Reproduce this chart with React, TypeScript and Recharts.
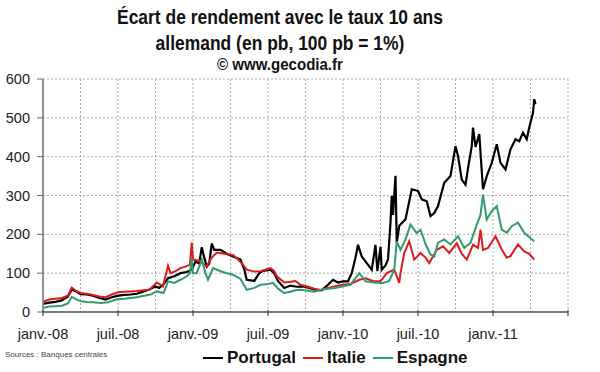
import React from "react";
import { LineChart, Line, XAxis, YAxis, CartesianGrid } from "recharts";

// x = months since January 2008
const portugalMonths = [0,0.5,1,1.5,2,2.3,2.7,3,3.5,4,4.5,5,5.5,6,6.5,7,7.5,8,8.5,9,9.3,9.6,10,10.5,11,11.5,11.9,12.2,12.5,12.7,12.9,13.1,13.3,13.5,13.7,14.2,14.7,15.2,15.8,16.1,16.3,16.9,17.3,17.6,18.2,18.5,18.8,19.3,19.8,20.3,20.8,21.3,21.8,22.3,22.8,23.2,23.6,24,24.4,24.7,25,25.2,25.5,25.9,26.3,26.6,26.75,27,27.1,27.4,27.6,27.8,27.9,28,28.2,28.3,28.5,29,29.5,30,30.3,30.7,31,31.3,31.6,32.1,32.6,33,33.2,33.5,33.8,34,34.3,34.4,34.6,34.9,35.2,35.5,35.9,36.3,36.6,37,37.4,37.8,38.1,38.4,38.7,38.9,39.2,39.3,39.4];
const portugalValues = [21,24,26,30,40,58,52,46,45,42,36,32,38,42,44,45,47,52,58,66,62,70,87,92,100,103,109,130,125,167,140,117,125,177,160,160,150,143,135,110,83,80,100,106,109,100,80,62,68,65,66,62,57,56,70,83,76,79,79,100,140,173,143,126,109,173,105,168,109,120,135,230,299,250,351,178,222,239,316,312,290,285,247,255,273,333,350,427,402,341,328,370,427,475,425,458,316,350,384,432,384,367,419,445,440,462,445,475,513,548,535];

const italieMonths = [0,0.5,1,1.5,2,2.3,2.6,3,3.5,4,4.5,5,5.5,6,6.5,7,7.5,8,8.5,9.1,9.6,10,10.2,10.6,11,11.5,11.75,11.9,12,12.5,13.1,13.5,13.9,14.5,15.2,15.6,16,16.3,16.9,17.4,18.2,18.5,18.7,19.3,19.8,20.2,20.6,21.2,21.7,22.2,22.8,23.3,24,24.6,25.3,25.8,26.4,27,27.5,28.1,28.5,28.6,28.9,29.3,29.7,30.2,30.6,30.9,31.5,32,32.5,33.1,33.5,33.9,34.4,34.8,35,35.2,35.6,36.2,36.7,37.1,37.4,38,38.5,38.9,39.3];
const italieValues = [26,32,34,36,42,63,55,49,47,44,40,38,45,51,52,53,54,56,57,76,66,119,100,105,113,118,122,179,135,132,117,140,153,150,147,135,122,109,104,105,113,105,92,76,78,80,70,65,60,57,62,66,70,72,83,87,80,79,100,109,75,100,152,182,135,152,140,126,160,169,152,177,150,135,173,165,212,160,165,195,161,140,144,174,156,150,135];

const espagneMonths = [0,0.5,1,1.5,2,2.3,2.7,3,3.5,4,4.6,5.2,5.9,6.5,7,7.5,8,8.6,9.1,9.65,10,10.5,11,11.5,11.75,11.9,12,12.3,12.7,13,13.2,13.6,14.2,14.7,15.2,15.8,16.3,16.9,17.4,18,18.4,18.8,19.3,19.8,20.2,20.6,21.2,21.7,22.2,22.8,23.4,24,24.6,25.3,25.8,26.5,27.2,27.7,28.1,28.3,28.6,29,29.4,29.9,30.2,30.6,31,31.3,31.6,32.1,32.6,33.2,33.7,34.2,34.7,35,35.2,35.5,35.9,36.3,36.7,37.1,37.5,38,38.5,39,39.3];
const espagneValues = [10,14,15,16,22,39,32,28,26,25,23,25,33,34,36,38,41,45,53,49,79,75,83,92,100,139,100,100,135,100,83,113,105,100,96,85,57,62,70,72,75,60,49,52,56,57,55,52,57,60,62,66,70,100,79,76,75,80,109,182,160,187,225,203,212,175,148,143,178,187,174,195,165,178,225,250,303,238,260,273,212,204,221,230,204,190,182];

const seriesNames = ["Portugal", "Italie", "Espagne"];
const seriesColors = ["#000000", "#dd1a1a", "#339a6c"];

const yTicks = [0, 100, 200, 300, 400, 500, 600];
const xGridTicks = [0, 3, 6, 9, 12, 15, 18, 21, 24, 27, 30, 33, 36, 39, 42];
const xLabels: Record<number, string> = {
  0: "janv.-08",
  6: "juil.-08",
  12: "janv.-09",
  18: "juil.-09",
  24: "janv.-10",
  30: "juil.-10",
  36: "janv.-11",
  42: "",
};

const titleLines = ["Écart de rendement avec le taux 10 ans", "allemand (en pb, 100 pb = 1%)"];
const copyrightText = "© www.gecodia.fr";
const sourceText = "Sources : Banques centrales";

const FONT = "'Liberation Sans', Arial, sans-serif";

const toData = (months: number[], values: number[]) =>
  months.map((m, i) => ({ m, v: values[i] }));

const seriesData = [
  toData(portugalMonths, portugalValues),
  toData(italieMonths, italieValues),
  toData(espagneMonths, espagneValues),
];

const XTick = (props: any) => {
  const { x, y, payload } = props;
  const v = payload.value;
  if (!(v in xLabels)) return null;
  return (
    <g>
      <line x1={x} x2={x} y1={y - 2} y2={y + 4} stroke="#444" strokeWidth={1.2} />
      <text x={x} y={y + 27} textAnchor="middle" fontSize={14.5} fill="#222" fontFamily={FONT}>
        {xLabels[v]}
      </text>
    </g>
  );
};

export default function App() {
  return (
    <div style={{ position: "absolute", left: 0, top: 0, width: 600, height: 372, background: "#fff", overflow: "hidden" }}>
      <div style={{ position: "absolute", left: 0, width: 560, top: 4, textAlign: "center", fontFamily: FONT, fontWeight: "bold", fontSize: 19.5, lineHeight: "26px", color: "#111", transform: "scaleX(0.895)", transformOrigin: "280px 0px" }}>
        <div>{titleLines[0]}</div>
        <div>{titleLines[1]}</div>
      </div>
      <div style={{ position: "absolute", left: 0, width: 560, top: 56, textAlign: "center", fontFamily: FONT, fontWeight: "bold", fontSize: 16, lineHeight: "18px", color: "#111", transform: "scaleX(0.94)", transformOrigin: "280px 0px" }}>
        {copyrightText}
      </div>
      <LineChart width={600} height={372} margin={{ top: 79, right: 32, bottom: 0, left: 0 }} style={{ position: "absolute", left: 0, top: 0 }}>
        <CartesianGrid stroke="#aaaaaa" strokeDasharray="2 2" strokeWidth={1} />
        <XAxis
          xAxisId={0}
          type="number"
          dataKey="m"
          domain={[0, 42]}
          ticks={xGridTicks}
          interval={0}
          height={60}
          tickSize={0}
          tickMargin={0}
          tickLine={false}
          axisLine={{ stroke: "#555", strokeWidth: 1.5 }}
          tick={<XTick />}
          allowDataOverflow
        />
        <XAxis xAxisId="top" orientation="top" type="number" domain={[0, 42]} height={0} tick={false} tickLine={false} axisLine={{ stroke: "#888", strokeWidth: 1.2 }} />
        <YAxis
          yAxisId={0}
          type="number"
          domain={[0, 600]}
          ticks={yTicks}
          interval={0}
          width={43}
          tickSize={6}
          tickMargin={7}
          tickLine={{ stroke: "#666" }}
          axisLine={{ stroke: "#888", strokeWidth: 1.8 }}
          tick={{ fontSize: 14.5, fill: "#222", fontFamily: FONT }}
        />
        <YAxis yAxisId="right" orientation="right" type="number" domain={[0, 600]} width={0} tick={false} tickLine={false} axisLine={{ stroke: "#888", strokeWidth: 1.2 }} />
        {seriesNames.map((name, i) => (
          <Line
            key={name}
            data={seriesData[i]}
            dataKey="v"
            name={name}
            stroke={seriesColors[i]}
            strokeWidth={i === 0 ? 2.2 : 2}
            dot={false}
            isAnimationActive={false}
            type="linear"
          />
        ))}
      </LineChart>
      <div style={{ position: "absolute", left: 203, top: 347, display: "flex", alignItems: "center", fontFamily: FONT, fontWeight: "bold", fontSize: 17, lineHeight: "22px", color: "#111", whiteSpace: "nowrap" }}>
        {seriesNames.map((name, i) => (
          <div key={name} style={{ display: "flex", alignItems: "center", marginRight: 7 }}>
            <div style={{ width: 20, height: 2.5, background: seriesColors[i], marginRight: 4 }} />
            <span>{name}</span>
          </div>
        ))}
      </div>
      <div style={{ position: "absolute", left: 5, top: 350, fontFamily: FONT, fontSize: 8, color: "#444", whiteSpace: "nowrap" }}>
        {sourceText}
      </div>
    </div>
  );
}
